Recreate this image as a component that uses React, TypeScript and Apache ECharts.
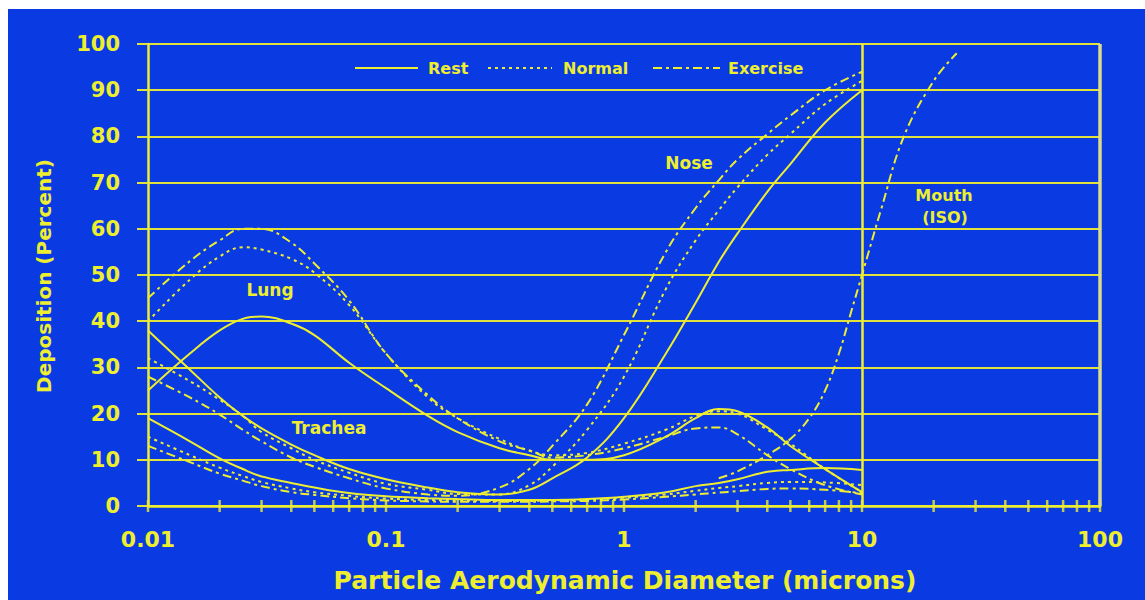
import React, { useEffect, useRef } from "react";
import * as echarts from "echarts";

// ---- data ----
const diam = [0.01, 0.015, 0.02, 0.025, 0.03, 0.04, 0.05, 0.07, 0.1, 0.15, 0.2, 0.3, 0.4, 0.5, 0.7, 1, 1.5, 2, 2.5, 3, 4, 5, 7, 10];

const lungRest = [25, 33, 38, 40.5, 41, 39.5, 37, 31, 25.5, 19.5, 16, 12.5, 11, 10, 10, 11, 15, 19, 21, 20.5, 17, 13, 8, 3];
const lungNormal = [40, 49, 54, 56, 55.5, 53.5, 50.5, 43.5, 33, 23.5, 19, 14.5, 12, 11, 11.5, 13.5, 16.5, 19.5, 20.5, 20, 16.5, 13.5, 8, 3];
const lungExercise = [45, 53, 57.5, 60, 60, 57, 52.5, 44.5, 33, 24, 19, 14, 12, 10.5, 11, 12.5, 15, 16.8, 17, 15.5, 11, 8, 4.5, 2.5];

const noseRest = [38, 29.5, 23.5, 19.5, 16.8, 13.3, 11, 8, 5.8, 4, 3, 2.5, 3.5, 6, 10.5, 19, 33, 44, 52.8, 59, 68, 74, 83, 90];
const noseNormal = [32, 27, 23, 19.5, 16, 12.5, 10, 7.2, 4.8, 3.5, 2.6, 2.5, 4.5, 8.5, 16.5, 28, 47, 57.5, 64, 69, 76, 80.5, 87, 92];
const noseExercise = [28, 23.5, 19.8, 16.5, 14, 10.5, 8.5, 6, 3.8, 2.5, 2.2, 4, 8, 13, 22, 37, 55, 64.5, 70.5, 75, 80.5, 84.5, 90, 94];

const tracheaRest = [19, 14, 10.3, 8, 6.4, 5, 4, 2.8, 2.1, 1.7, 1.5, 1.3, 1.3, 1.3, 1.5, 2, 3, 4.3, 5, 5.8, 7.4, 7.8, 8.2, 7.8];
const tracheaNormal = [15, 11, 8.3, 6.5, 5.2, 3.8, 3, 2.2, 1.6, 1.3, 1.2, 1.1, 1.1, 1.2, 1.4, 1.8, 2.5, 3.3, 3.9, 4.3, 5, 5.2, 5.1, 4.5];
const tracheaExercise = [13, 9.5, 7, 5.5, 4.3, 3, 2.4, 1.7, 1.2, 1, 0.9, 0.9, 0.9, 1, 1.1, 1.4, 2, 2.5, 2.9, 3.2, 3.7, 3.8, 3.5, 2.8];

const mouthDiam = [2.5, 3, 4, 5, 6, 7, 8, 9, 10, 12, 15, 20, 25];
const mouthISO = [6, 7.5, 11, 14.5, 19, 25, 33, 42, 50, 64, 80, 92, 98];

const xTickValues = [0.01, 0.1, 1, 10, 100];
const xTickLabels = ["0.01", "0.1", "1", "10", "100"];
const minorMultipliers = [2, 3, 4, 5, 6, 7, 8, 9];
const refLines = [10, 100];

const legendNames = ["Rest", "Normal", "Exercise"];
const regionLabels = ["Lung", "Trachea", "Nose", "Mouth", "(ISO)"];

// ---- styles ----
const BG = "#0a3ae2";
const YEL = "#eeee30";
const GRID = "#e2e23c";
const FONT = "DejaVu Sans";
const SOLID: any = "solid";
const DOTTED: any = [3, 4];
const DASHDOT: any = [9, 4, 3, 4];

function pairs(xs: number[], ys: number[]) {
  return xs.map((x, i) => [x, ys[i]]);
}

function curve(name: string, xs: number[], ys: number[], type: any) {
  return {
    name,
    type: "line",
    data: pairs(xs, ys),
    smooth: 0.4,
    showSymbol: false,
    symbol: "none",
    lineStyle: { color: YEL, width: 2, type },
    z: 3,
  };
}

export default function App() {
  const ref = useRef<HTMLDivElement>(null);

  useEffect(() => {
    if (!ref.current) return;
    const chart = echarts.init(ref.current, undefined, { renderer: "svg" });

    const tickXs: number[] = [];
    for (let d = 0; d < xTickValues.length; d++) {
      tickXs.push(xTickValues[d]);
      if (d < xTickValues.length - 1) {
        minorMultipliers.forEach((m) => tickXs.push(xTickValues[d] * m));
      }
    }

    const OX = 8;
    const OY = 9;
    const lbl = (text: string, cx: number, cy: number, size: number) => ({
      type: "text",
      x: cx - OX,
      y: cy - OY,
      z: 10,
      style: {
        text,
        fill: YEL,
        font: `bold ${size}px "${FONT}"`,
        align: "center",
        verticalAlign: "middle",
      },
    });
    const lblLeft = (text: string, lx: number, cy: number, size: number) => ({
      type: "text",
      x: lx - OX,
      y: cy - OY,
      z: 10,
      style: {
        text,
        fill: YEL,
        font: `bold ${size}px "${FONT}"`,
        align: "left",
        verticalAlign: "middle",
      },
    });
    const legLine = (x1: number, x2: number, y: number, dash: any) => ({
      type: "line",
      z: 10,
      shape: { x1: x1 - OX, y1: y - OY, x2: x2 - OX, y2: y - OY },
      style: { stroke: YEL, lineWidth: 2, lineDash: dash === "solid" ? null : dash },
    });

    const option: any = {
      animation: false,
      backgroundColor: BG,
      grid: { left: 140, right: 45, top: 35, bottom: 94, containLabel: false },
      xAxis: {
        type: "log",
        logBase: 10,
        min: 0.01,
        max: 100,
        axisLine: { show: true, lineStyle: { color: YEL, width: 2.5 } },
        axisTick: { show: false },
        splitLine: { show: false },
        minorTick: { show: false },
        axisLabel: {
          color: YEL,
          fontFamily: FONT,
          fontWeight: "bold",
          fontSize: 22,
          margin: 22,
          formatter: (v: number) => {
            let best = 0;
            let bd = Infinity;
            xTickValues.forEach((t, i) => {
              const d = Math.abs(Math.log10(t) - Math.log10(v));
              if (d < bd) {
                bd = d;
                best = i;
              }
            });
            return bd < 0.01 ? xTickLabels[best] : "";
          },
        },
      },
      yAxis: {
        type: "value",
        min: 0,
        max: 100,
        interval: 10,
        axisLine: { show: true, lineStyle: { color: YEL, width: 2.5 } },
        axisTick: { show: true, length: 11, lineStyle: { color: GRID, width: 2 } },
        splitLine: { show: true, lineStyle: { color: GRID, width: 2 } },
        axisLabel: {
          color: YEL,
          fontFamily: FONT,
          fontWeight: "bold",
          fontSize: 21,
          margin: 28,
        },
      },
      series: [
        curve("Lung Rest", diam, lungRest, SOLID),
        curve("Lung Normal", diam, lungNormal, DOTTED),
        curve("Lung Exercise", diam, lungExercise, DASHDOT),
        curve("Nose Rest", diam, noseRest, SOLID),
        curve("Nose Normal", diam, noseNormal, DOTTED),
        curve("Nose Exercise", diam, noseExercise, DASHDOT),
        curve("Trachea Rest", diam, tracheaRest, SOLID),
        curve("Trachea Normal", diam, tracheaNormal, DOTTED),
        curve("Trachea Exercise", diam, tracheaExercise, DASHDOT),
        curve("Mouth (ISO)", mouthDiam, mouthISO, DASHDOT),
        {
          name: "ticks",
          type: "scatter",
          data: tickXs.map((x) => [x, 0]),
          symbol: "rect",
          symbolSize: [2.5, 12],
          itemStyle: { color: YEL },
          clip: false,
          silent: true,
          z: 4,
          markLine: {
            silent: true,
            symbol: "none",
            label: { show: false },
            data: [
              { xAxis: refLines[0], lineStyle: { color: YEL, width: 2.5, type: "solid" } },
              { xAxis: refLines[1], lineStyle: { color: "#dcdc8c", width: 3.5, type: "solid" } },
            ],
          },
        },
      ],
      graphic: [
        legLine(355, 418, 68, "solid"),
        lblLeft(legendNames[0], 428, 68, 16),
        legLine(488, 552, 68, DOTTED),
        lblLeft(legendNames[1], 563, 68, 16),
        legLine(653, 720, 68, DASHDOT),
        lblLeft(legendNames[2], 728, 68, 16),
        lbl(regionLabels[0], 270, 290, 17),
        lbl(regionLabels[1], 329, 428, 17),
        lbl(regionLabels[2], 689, 163, 17),
        lbl(regionLabels[3], 944, 195, 16),
        lbl(regionLabels[4], 945, 217, 16),
        lbl("Particle Aerodynamic Diameter (microns)", 625, 580, 25),
        {
          type: "text",
          x: 44 - OX,
          y: 276 - OY,
          rotation: Math.PI / 2,
          z: 10,
          style: {
            text: "Deposition (Percent)",
            fill: YEL,
            font: `bold 20px "${FONT}"`,
            align: "center",
            verticalAlign: "middle",
          },
        },
      ],
    };

    chart.setOption(option);
    return () => chart.dispose();
  }, []);

  return (
    <div
      ref={ref}
      style={{ position: "fixed", left: 8, top: 9, width: 1137, height: 591 }}
    />
  );
}
